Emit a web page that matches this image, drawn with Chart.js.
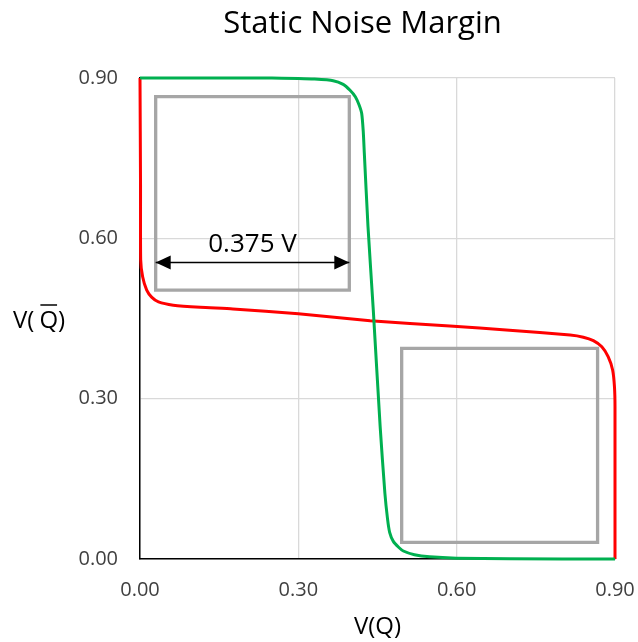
<!DOCTYPE html>
<html>
<head>
<meta charset="utf-8">
<script src="https://cdn.jsdelivr.net/npm/chart.js@4/dist/chart.umd.min.js"></script>
<style>
  html, body { margin: 0; padding: 0; background: #fff; }
</style>
</head>
<body>
<canvas id="snm" width="638" height="642"></canvas>
<script>
// butterfly curve (volts)
const redQ    = [0.000, 0.001, 0.0013, 0.005, 0.0127, 0.022, 0.035, 0.063, 0.114, 0.176, 0.300, 0.436, 0.587, 0.700, 0.815, 0.840, 0.859, 0.875, 0.887, 0.8955, 0.899, 0.900, 0.900]
const redQbar = [0.900, 0.700, 0.560, 0.528, 0.503, 0.490, 0.481, 0.475, 0.471, 0.468, 0.459, 0.446, 0.436, 0.428, 0.419, 0.415, 0.4085, 0.397, 0.3786, 0.3537, 0.322, 0.285, 0.000]

const greenQ    = [0.000, 0.250, 0.300, 0.330, 0.366, 0.385, 0.398, 0.408, 0.415, 0.420, 0.423, 0.425, 0.432, 0.442, 0.455, 0.464, 0.469, 0.473, 0.480, 0.490, 0.499, 0.520, 0.549, 0.600, 0.700, 0.900]
const greenQbar = [0.900, 0.900, 0.899, 0.898, 0.895, 0.888, 0.877, 0.865, 0.850, 0.834, 0.800, 0.760, 0.622, 0.466, 0.248, 0.123, 0.075, 0.050, 0.033, 0.022, 0.015, 0.008, 0.004, 0.0015, 0.0005, 0.000]

// noise margin squares: [left, right, bottom, top]
const boxHold  = [0.0297, 0.3966, 0.503, 0.865]
const boxRead  = [0.4958, 0.867, 0.031, 0.394]

// arrow across the upper square
const arrowQ   = [0.0297, 0.3966]
const arrowQbar = [0.555, 0.555]
const marginLabel = "0.375 V"

const axisTicks = [0.00, 0.30, 0.60, 0.90]
const chartTitle = "Static Noise Margin"

const FONT = '"Open Sans", "Noto Sans", sans-serif'

function toPoints(xs, ys) {
  return xs.map((x, i) => ({ x: x, y: ys[i] }))
}
function boxPoints(b) {
  return [
    { x: b[0], y: b[2] }, { x: b[0], y: b[3] },
    { x: b[1], y: b[3] }, { x: b[1], y: b[2] }, { x: b[0], y: b[2] }
  ]
}

const lineDefaults = { showLine: true, pointRadius: 0, pointHoverRadius: 0, clip: false, fill: false }

// title, arrowheads, label and the horizontal y title
const annotate = {
  id: "annotate",
  afterDatasetsDraw(chart) {
    const ctx = chart.ctx
    const xs = chart.scales.x, ys = chart.scales.y
    const x0 = xs.getPixelForValue(arrowQ[0])
    const x1 = xs.getPixelForValue(arrowQ[1])
    const y0 = ys.getPixelForValue(arrowQbar[0])
    ctx.save()
    ctx.fillStyle = "#000"
    // heads
    const len = 15, half = 7
    ctx.beginPath()
    ctx.moveTo(x0, y0); ctx.lineTo(x0 + len, y0 - half); ctx.lineTo(x0 + len, y0 + half); ctx.closePath()
    ctx.fill()
    ctx.beginPath()
    ctx.moveTo(x1, y0); ctx.lineTo(x1 - len, y0 - half); ctx.lineTo(x1 - len, y0 + half); ctx.closePath()
    ctx.fill()
    // label
    ctx.font = "26px " + FONT
    ctx.textAlign = "center"
    ctx.textBaseline = "alphabetic"
    ctx.fillText(marginLabel, (x0 + x1) / 2, y0 - 10)
    ctx.restore()
  },
  afterDraw(chart) {
    const ctx = chart.ctx
    const area = chart.chartArea
    ctx.save()
    ctx.fillStyle = "#000"
    ctx.strokeStyle = "#000"
    // title sits a bit left of the plot centre, like the original
    ctx.font = "31px " + FONT
    ctx.textAlign = "center"
    ctx.textBaseline = "alphabetic"
    ctx.fillText(chartTitle, (area.left + area.right) / 2 - 15, 33)

    ctx.font = "24px " + FONT
    ctx.textAlign = "left"
    const base = (area.top + area.bottom) / 2 + 9.5
    let x = 13
    ctx.fillText("V(", x, base)
    x += ctx.measureText("V(").width + 5
    const qw = ctx.measureText("Q").width
    ctx.fillText("Q", x, base)
    ctx.lineWidth = 1.5
    ctx.beginPath()
    ctx.moveTo(x + 1, base - 23)
    ctx.lineTo(x + qw - 1, base - 23)
    ctx.stroke()
    ctx.fillText(")", x + qw, base)
    ctx.restore()
  }
}

const tickFormat = v => Number(v).toFixed(2)

new Chart(document.getElementById("snm"), {
  type: "scatter",
  data: {
    datasets: [
      { ...lineDefaults, data: toPoints(greenQ, greenQbar), borderColor: "#00b050", borderWidth: 3, tension: 0.2 },
      { ...lineDefaults, data: toPoints(redQ, redQbar), borderColor: "#ff0000", borderWidth: 3, tension: 0.2 },
      { ...lineDefaults, data: toPoints(arrowQ, arrowQbar), borderColor: "#000", borderWidth: 1.5, tension: 0 },
      { ...lineDefaults, data: boxPoints(boxHold), borderColor: "#a6a6a6", borderWidth: 3.3, tension: 0, borderCapStyle: "square" },
      { ...lineDefaults, data: boxPoints(boxRead), borderColor: "#a6a6a6", borderWidth: 3.3, tension: 0, borderCapStyle: "square" }
    ]
  },
  options: {
    responsive: false,
    devicePixelRatio: 1,
    animation: false,
    layout: { padding: { left: 0, right: 23, top: 78, bottom: 0 } },
    plugins: {
      legend: { display: false },
      tooltip: { enabled: false },
      title: { display: false }
    },
    scales: {
      x: {
        type: "linear",
        min: axisTicks[0],
        max: axisTicks[axisTicks.length - 1],
        afterBuildTicks: s => { s.ticks = axisTicks.map(v => ({ value: v })) },
        ticks: { callback: tickFormat, color: "#404040", font: { family: FONT, size: 20 }, padding: 19, maxRotation: 0 },
        grid: { color: "#d9d9d9", lineWidth: 1.3, drawTicks: false },
        border: { color: "#000", width: 1.5 },
        title: { display: true, text: "V(Q)", color: "#000", font: { family: FONT, size: 24 }, padding: { top: 0, bottom: 0 } },
        afterFit: s => { s.height = 83; s.paddingLeft = 0; s.paddingRight = 0 }
      },
      y: {
        type: "linear",
        min: axisTicks[0],
        max: axisTicks[axisTicks.length - 1],
        afterBuildTicks: s => { s.ticks = axisTicks.map(v => ({ value: v })) },
        ticks: { callback: tickFormat, color: "#404040", font: { family: FONT, size: 20 }, padding: 22 },
        grid: { color: "#d9d9d9", lineWidth: 1.3, drawTicks: false },
        border: { color: "#000", width: 1.5 },
        afterFit: s => { s.width = 140; s.paddingTop = 0; s.paddingBottom = 0 }
      }
    }
  },
  plugins: [annotate]
})
</script>
</body>
</html>
